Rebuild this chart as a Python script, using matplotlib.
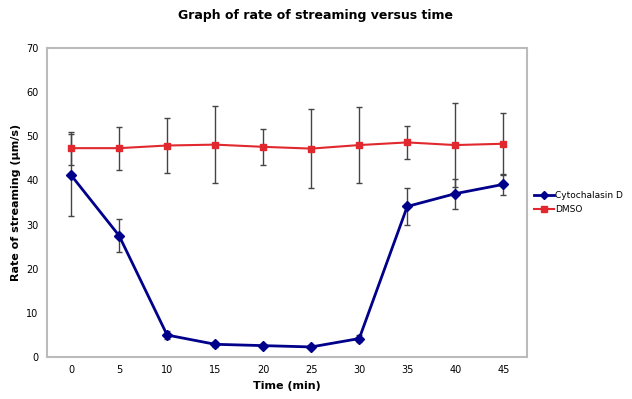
import matplotlib.pyplot as plt
from matplotlib.lines import Line2D
import numpy as np

time_min = [0, 5, 10, 15, 20, 25, 30, 35, 40, 45]
cyto = [41.2, 27.5, 5.0, 2.9, 2.6, 2.3, 4.2, 34.1, 37.0, 39.1]
cyto_err = [9.3, 3.7, 0.8, 0.5, 0.4, 0.4, 0.8, 4.1, 3.4, 2.3]
dmso = [47.3, 47.3, 47.9, 48.1, 47.6, 47.2, 48.0, 48.6, 48.0, 48.3]
dmso_err = [3.7, 4.9, 6.2, 8.7, 4.0, 9.0, 8.7, 3.7, 9.5, 7.0]

blue = '#00008B'
red = '#E0282E'

fig = plt.figure(figsize=(6.32, 3.99), dpi=100)
ax = fig.add_axes([0.0744, 0.105, 0.76, 0.775])

x = np.array(time_min)
ax.errorbar(x, cyto, yerr=cyto_err, color=blue, marker='D', markersize=5,
            linewidth=2, ecolor='#444444', elinewidth=1, capsize=2.5, zorder=3)
ax.errorbar(x, dmso, yerr=dmso_err, color=red, marker='s', markersize=5,
            linewidth=1.5, ecolor='#444444', elinewidth=1, capsize=2.5, zorder=3)

ax.set_xlim(-2.5, 47.5)
ax.set_ylim(0, 70)
ax.set_xticks(time_min)
ax.set_yticks(range(0, 71, 10))
ax.tick_params(labelsize=7, length=0, pad=6)
for s in ax.spines.values():
    s.set_color('#bbbbbb')
    s.set_linewidth(1.5)

ax.set_xlabel('Time (min)', fontsize=8, fontweight='bold')
ax.set_ylabel('Rate of streaming (µm/s)', fontsize=8, fontweight='bold')
fig.suptitle('Graph of rate of streaming versus time', x=0.5, y=0.978,
             fontsize=9, fontweight='bold')

handles = [Line2D([], [], color=blue, marker='D', markersize=4, linewidth=2),
           Line2D([], [], color=red, marker='s', markersize=4, linewidth=1.5)]
ax.legend(handles, ['Cytochalasin D', 'DMSO'], loc='center left',
          bbox_to_anchor=(1.0, 0.5), frameon=False, fontsize=6.5,
          handlelength=2.2, handletextpad=0.2, borderaxespad=0.3,
          labelspacing=0.5)

plt.savefig('out.png', dpi=100)
